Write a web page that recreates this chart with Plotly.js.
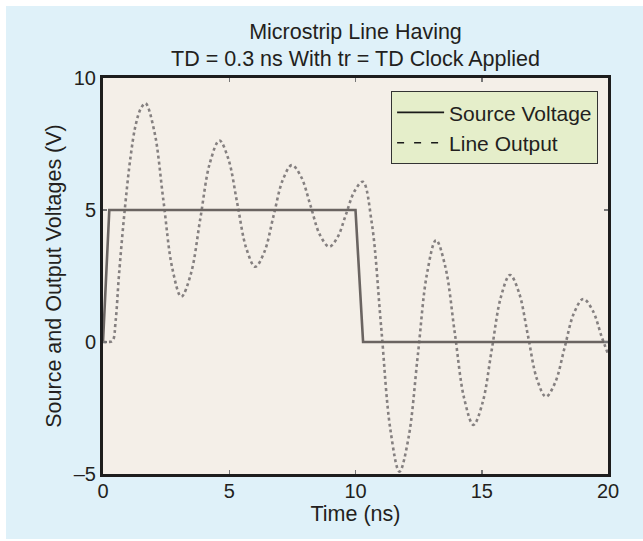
<!DOCTYPE html>
<html>
<head>
<meta charset="utf-8">
<script src="https://cdn.plot.ly/plotly-3.0.1.min.js"></script>
<style>
  html, body { margin: 0; padding: 0; background: #ffffff; width: 643px; height: 541px; overflow: hidden; }
  #chart { position: absolute; left: 6px; top: 6px; width: 637px; height: 533px; }
</style>
</head>
<body>
<div id="chart"></div>
<script>
// Source voltage (V) vs time (ns)
const timeSource = [0, 0.25, 10.0, 10.3, 20];
const voltSource = [0, 5, 5, 0, 0];

// Line output (V) vs time (ns)
const timeOutput = [0, 0.2, 0.38, 0.5, 0.63, 0.86, 1.09, 1.29, 1.5, 1.68,
  2.035, 2.39, 2.745, 3.10, 3.48, 3.855, 4.23, 4.61, 4.965, 5.32, 5.675, 6.03,
  6.39, 6.755, 7.12, 7.48, 7.85, 8.22, 8.59, 8.96, 9.29, 9.625, 9.96, 10.29,
  10.65, 11.015, 11.38, 11.74, 12.1, 12.465, 12.83, 13.19, 13.56, 13.93, 14.30, 14.67,
  15.03, 15.395, 15.76, 16.12, 16.475, 16.83, 17.185, 17.54, 17.91, 18.28, 18.65, 19.02,
  19.39, 19.76, 20];
const voltOutput = [0, 0, 0.05, 0.8, 2.5, 5.0, 7.0, 8.2, 8.85, 9.04,
  7.97, 5.38, 2.79, 1.72, 2.58, 4.68, 6.77, 7.63, 6.93, 5.24, 3.55, 2.85,
  3.41, 4.78, 6.14, 6.70, 6.25, 5.16, 4.06, 3.61, 3.97, 4.84, 5.71, 6.07,
  4.47, 0.58, -3.31, -4.91, -3.63, -0.53, 2.58, 3.86, 2.84, 0.36, -2.12, -3.14,
  -2.31, -0.30, 1.71, 2.54, 1.87, 0.24, -1.40, -2.07, -1.53, -0.22, 1.09, 1.63,
  1.20, 0.17, -0.45];

const seriesNames = ['Source Voltage', 'Line Output'];
const xTickVals = [0, 5, 10, 15, 20];
const yTickVals = [-5, 0, 5, 10];
const yTickText = ['\u20135', '0', '5', '10'];

const FONT = 'Liberation Sans, Arial, Helvetica, sans-serif';
const TXT = '#231f20';

const traces = [
  {
    x: timeOutput, y: voltOutput, type: 'scatter', mode: 'lines',
    line: { color: '#858080', width: 2.6, dash: 'dot', shape: 'spline', smoothing: 1 },
    showlegend: false, hoverinfo: 'skip'
  },
  {
    x: timeSource, y: voltSource, type: 'scatter', mode: 'lines',
    line: { color: '#6a6461', width: 2.6 },
    showlegend: false, hoverinfo: 'skip'
  },
  // legend entries (no data drawn)
  {
    x: [null], y: [null], type: 'scatter', mode: 'lines', name: seriesNames[0],
    line: { color: '#1a1a1a', width: 1.6 }
  },
  {
    x: [null], y: [null], type: 'scatter', mode: 'lines', name: seriesNames[1],
    line: { color: '#1a1a1a', width: 1.6, dash: '7px,10px' }
  }
];

const layout = {
  width: 637, height: 533,
  paper_bgcolor: '#dff1f9',
  plot_bgcolor: '#f4efe8',
  font: { family: FONT, size: 21, color: TXT },
  margin: { l: 97, r: 35, t: 72, b: 65, pad: 0 },
  title: {
    text: 'Microstrip Line Having<br>TD = 0.3 ns With tr = TD Clock Applied',
    x: 0.5, xref: 'paper', xanchor: 'center',
    y: 0.939, yref: 'container', yanchor: 'middle',
    font: { family: FONT, size: 21.5, color: TXT }
  },
  xaxis: {
    range: [0, 20], tickvals: xTickVals, ticktext: xTickVals.map(String),
    ticks: 'inside', ticklen: 4, tickwidth: 1.5, tickcolor: '#777',
    ticklabelstandoff: -3,
    showline: true, linecolor: '#1d1d1d', linewidth: 3, mirror: 'ticks',
    showgrid: false, zeroline: false,
    tickfont: { family: FONT, size: 20, color: TXT },
    title: { text: 'Time (ns)', standoff: 4, font: { family: FONT, size: 21.5, color: TXT } }
  },
  yaxis: {
    range: [-5, 10], tickvals: yTickVals, ticktext: yTickText,
    ticks: 'inside', ticklen: 4, tickwidth: 1.5, tickcolor: '#777',
    showline: true, linecolor: '#1d1d1d', linewidth: 3, mirror: 'ticks',
    showgrid: false, zeroline: false,
    tickfont: { family: FONT, size: 20, color: TXT },
    title: { text: 'Source and Output Voltages (V)', standoff: 7, font: { family: FONT, size: 21.5, color: TXT } }
  },
  legend: {
    x: 0.98, xanchor: 'right', y: 0.967, yanchor: 'top',
    bgcolor: '#e5eeca', bordercolor: '#333333', borderwidth: 1.2,
    font: { family: FONT, size: 21, color: TXT },
    itemwidth: 47, tracegroupgap: 0
  },
  showlegend: true
};

Plotly.newPlot('chart', traces, layout, { staticPlot: true, displayModeBar: false });
</script>
</body>
</html>
